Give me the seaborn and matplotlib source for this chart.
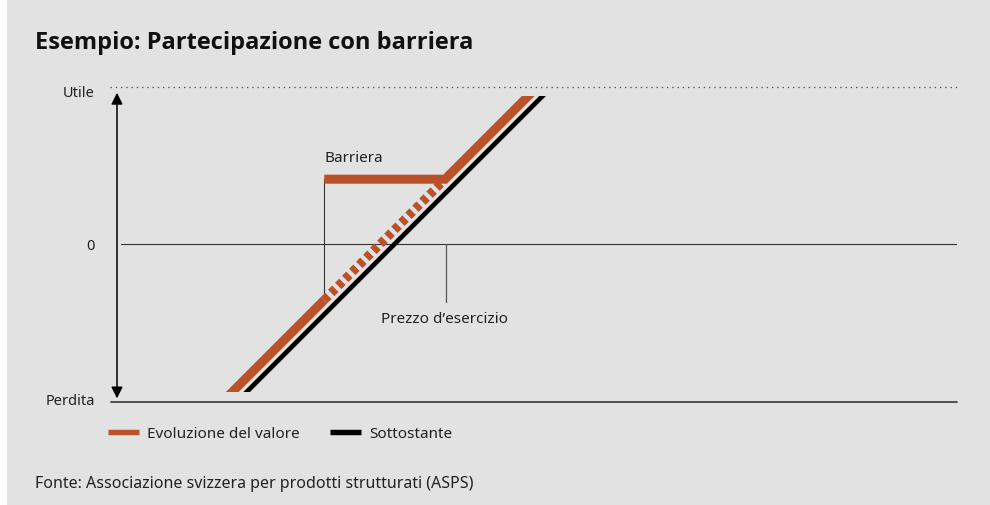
import matplotlib
matplotlib.use("Agg")
import matplotlib.pyplot as plt
import seaborn as sns
import pandas as pd
from matplotlib.lines import Line2D
from matplotlib.patches import Rectangle

# ---------------- data (schematic units) ----------------
title = "Esempio: Partecipazione con barriera"
source = "Fonte: Associazione svizzera per prodotti strutturati (ASPS)"
y_tick_values = [19.1, 0.0, -19.4]
y_tick_labels = ["Utile", "0", "Perdita"]
legend_labels = ["Evoluzione del valore", "Sottostante"]

underlying_x = [15.6, 53.7]
underlying_y = [-19.1, 19.0]

value_low_x = [13.8, 25.9]
value_low_y = [-19.1, -7.0]
value_dash_x = [25.9, 41.0]
value_dash_y = [-7.0, 8.1]
value_high_x = [25.9, 41.0, 52.0]
value_high_y = [8.1, 8.1, 19.1]

barrier_x = 25.9
barrier_line_y = [8.1, -6.4]
strike_x = 41.1
strike_line_y = [0.0, -7.2]
visible_y = [-18.5, 18.5]

ORANGE = "#bb5128"
BG = "#e2e2e2"

sns.set_theme(style="white")
plt.rcParams["font.family"] = ["Noto Sans", "DejaVu Sans"]

W, H = 990, 505
fig = plt.figure(figsize=(W / 100, H / 100), dpi=100, facecolor=BG)
fig.patches.append(Rectangle((0, 0), 7 / W, 1, transform=fig.transFigure,
                             facecolor="white", edgecolor="none", zorder=-10))

px0, px1 = 117, 957
py_top, py_bot = 87, 402
ax = fig.add_axes([px0 / W, 1 - py_bot / H, (px1 - px0) / W, (py_bot - py_top) / H])
ax.set_facecolor("none")
ax.set_xlim(0, 105)
ax.set_ylim(-19.75, 19.625)
for s in ax.spines.values():
    s.set_visible(False)

clip = Rectangle((0, visible_y[0]), 105, visible_y[1] - visible_y[0],
                 transform=ax.transData, facecolor="none", edgecolor="none")
ax.add_patch(clip)

def segment(xs, ys, **kw):
    df = pd.DataFrame({"x": xs, "y": ys})
    n0 = len(ax.lines)
    sns.lineplot(data=df, x="x", y="y", sort=False, estimator=None, ax=ax, **kw)
    return ax.lines[n0:]

# reference lines
ax.plot([-0.9, 105], [19.625, 19.625], color="#555555", lw=0.9,
        linestyle=(0, (1.1, 3.1)), clip_on=False, zorder=1)
ax.plot([0.5, 105], [0, 0], color="#333333", lw=0.8, zorder=1)
ax.plot([-0.8, 105], [-19.75, -19.75], color="#444444", lw=1.3, clip_on=False, zorder=1)

# thin verticals
ax.plot([barrier_x, barrier_x], barrier_line_y, color="#333333", lw=0.8, zorder=2)
ax.plot([strike_x, strike_x], strike_line_y, color="#555555", lw=0.9, zorder=2)

# underlying
for l in segment(underlying_x, underlying_y, color="black", linewidth=3.4, zorder=3):
    l.set_solid_capstyle("butt"); l.set_clip_path(clip)

# value evolution
for l in segment(value_low_x, value_low_y, color=ORANGE, linewidth=6.5, zorder=4):
    l.set_solid_capstyle("butt"); l.set_clip_path(clip)
for l in segment(value_dash_x, value_dash_y, color=ORANGE, linewidth=6.5, zorder=4):
    l.set_linestyle((0, (0.65, 0.45))); l.set_dash_capstyle("butt")
for l in segment(value_high_x, value_high_y, color=ORANGE, linewidth=6.5, zorder=4):
    l.set_solid_capstyle("butt"); l.set_solid_joinstyle("miter"); l.set_clip_path(clip)

# double arrow
ax.annotate("", xy=(0, 18.9), xytext=(0, -19.3), xycoords="data",
            arrowprops=dict(arrowstyle="<|-|>", color="black", lw=1.1,
                            mutation_scale=17, shrinkA=0, shrinkB=0))

# y tick labels
ax.set_yticks(y_tick_values)
ax.set_yticklabels(y_tick_labels)
ax.tick_params(axis="y", length=0, pad=16, labelsize=10.5, labelcolor="#222222")
ax.set_xticks([])
ax.set_xlabel(""); ax.set_ylabel("")

# annotations
ax.text(barrier_x, 10.75, "Barriera", fontsize=11, color="#222222", va="center", ha="left")
ax.text(33.0, -9.4, "Prezzo d\u2019esercizio", fontsize=11, color="#222222", va="center", ha="left")

# title & source
fig.text(35 / W, 1 - 43 / H, title, fontsize=17, fontweight="bold", color="#111111",
         va="center", ha="left", family=["Open Sans", "Noto Sans", "DejaVu Sans"])
fig.text(35 / W, 1 - 484 / H, source, fontsize=11.5, color="#222222", va="center", ha="left")

# legend
handles = [Line2D([], [], color=ORANGE, lw=3.9, solid_capstyle="butt"),
           Line2D([], [], color="black", lw=3.9, solid_capstyle="butt")]
fig.legend(handles, legend_labels, loc="center left", bbox_to_anchor=(108 / W, 1 - 434 / H),
           ncol=2, frameon=False, fontsize=11, handlelength=2.0, handletextpad=0.55,
           columnspacing=2.0, borderpad=0, borderaxespad=0, labelcolor="#222222")

fig.savefig("out.png", dpi=100, facecolor=BG)
